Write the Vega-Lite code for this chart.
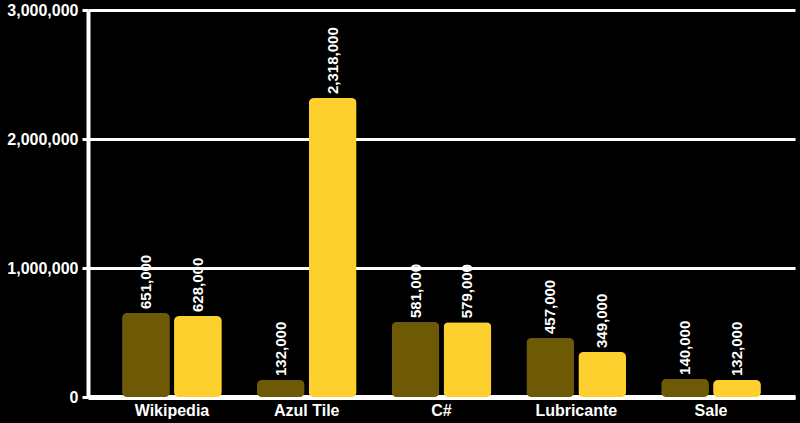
{
  "$schema": "https://vega.github.io/schema/vega-lite/v6.json",
  "width": 707,
  "height": 387,
  "autosize": {"type": "none"},
  "padding": {"left": 88, "top": 10, "right": 5, "bottom": 26},
  "background": "#000000",
  "config": {
    "view": {"stroke": null},
    "font": "Liberation Sans"
  },
  "data": {
    "values": [
      {"category": "Wikipedia", "series": "A", "value": 651000},
      {"category": "Wikipedia", "series": "B", "value": 628000},
      {"category": "Azul Tile", "series": "A", "value": 132000},
      {"category": "Azul Tile", "series": "B", "value": 2318000},
      {"category": "C#", "series": "A", "value": 581000},
      {"category": "C#", "series": "B", "value": 579000},
      {"category": "Lubricante", "series": "A", "value": 457000},
      {"category": "Lubricante", "series": "B", "value": 349000},
      {"category": "Sale", "series": "A", "value": 140000},
      {"category": "Sale", "series": "B", "value": 132000}
    ]
  },
  "encoding": {
    "x": {
      "field": "category", "type": "nominal", "sort": null,
      "scale": {"paddingInner": 0.26, "paddingOuter": 0.253},
      "axis": {
        "title": null, "labelAngle": 0, "labelColor": "#ffffff",
        "labelFontSize": 16, "labelFontWeight": "bold", "labelPadding": 5,
        "domainColor": "#ffffff", "domainWidth": 5, "ticks": false
      }
    },
    "xOffset": {"field": "series", "type": "nominal", "scale": {"paddingInner": 0.08}},
    "y": {
      "field": "value", "type": "quantitative",
      "scale": {"domain": [0, 3000000]},
      "axis": {
        "title": null, "values": [0, 1000000, 2000000, 3000000],
        "labelExpr": "format(datum.value, ',')",
        "labelColor": "#ffffff", "labelFontSize": 16, "labelFontWeight": "bold", "labelPadding": 4,
        "domainColor": "#ffffff", "domainWidth": 4, "tickColor": "#ffffff", "tickWidth": 3, "tickSize": 6,
        "grid": true, "gridColor": "#ffffff", "gridWidth": 3
      }
    }
  },
  "layer": [
    {
      "mark": {"type": "bar", "cornerRadius": 5},
      "encoding": {
        "color": {
          "field": "series", "type": "nominal",
          "scale": {"domain": ["A", "B"], "range": ["#6e5a06", "#fdd02e"]},
          "legend": null
        }
      }
    },
    {
      "mark": {"type": "text", "angle": 270, "align": "left", "baseline": "middle", "dx": 4, "color": "#ffffff", "fontSize": 15, "fontWeight": "bold"},
      "encoding": {
        "text": {"field": "value", "type": "quantitative", "format": ","}
      }
    }
  ]
}
